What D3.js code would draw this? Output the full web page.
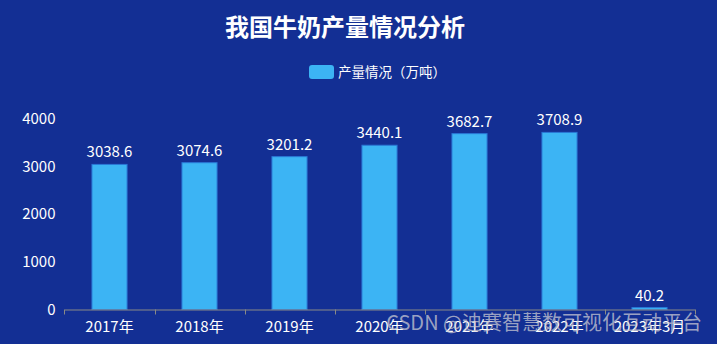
<!DOCTYPE html>
<html><head><meta charset="utf-8">
<script src="https://cdn.jsdelivr.net/npm/d3@7"></script>
<style>html,body{margin:0;padding:0;background:#132f94;}svg{display:block;}</style>
</head><body>
<script>
const categories = ["2017年","2018年","2019年","2020年","2021年","2022年","2023年3月"];
const values = [3038.6, 3074.6, 3201.2, 3440.1, 3682.7, 3708.9, 40.2];
const yTicks = [0, 1000, 2000, 3000, 4000];
const title = "我国牛奶产量情况分析";
const legendLabel = "产量情况（万吨）";
const watermark = "CSDN @迪赛智慧数可视化互动平台";

const W = 717, H = 344;
const font = "'Noto Sans CJK SC','Microsoft YaHei',sans-serif";
const svg = d3.select("body").append("svg").attr("width", W).attr("height", H)
  .style("font-family", font);
svg.append("rect").attr("width", W).attr("height", H).attr("fill", "#132f94");

const x = d3.scaleBand().domain(categories).range([64.5, 694.5]).paddingInner(0.61).paddingOuter(0.305);
const y = d3.scaleLinear().domain([0, 4000]).range([309.5, 118.5]);

// title
svg.append("text").attr("x", 345).attr("y", 36).attr("text-anchor", "middle")
  .attr("fill", "#fff").attr("font-size", 24).attr("font-weight", "bold").text(title);

// legend
svg.append("rect").attr("x", 309).attr("y", 65).attr("width", 25).attr("height", 14).attr("rx", 3)
  .attr("fill", "#3cb4f4");
svg.append("text").attr("x", 338).attr("y", 77).attr("fill", "#fff").attr("font-size", 13.5)
  .text(legendLabel);

// y axis
const yAxis = svg.append("g").attr("transform", "translate(64.5,0)")
  .call(d3.axisLeft(y).tickValues(yTicks).tickFormat(d3.format("d")).tickSize(0).tickPadding(9));
yAxis.select(".domain").remove();
yAxis.selectAll("text").attr("fill", "#fff").attr("font-size", 15).attr("font-family", font);

// bars
svg.append("g").selectAll("rect").data(values).join("rect")
  .attr("x", (d, i) => x(categories[i]))
  .attr("y", d => y(d))
  .attr("width", x.bandwidth())
  .attr("height", d => y(0) - y(d))
  .attr("fill", "#3cb4f4").attr("stroke", "#2a78d6").attr("stroke-width", 1);

// value labels
svg.append("g").selectAll("text").data(values).join("text")
  .attr("x", (d, i) => x(categories[i]) + x.bandwidth() / 2)
  .attr("y", d => y(d) - 7)
  .attr("text-anchor", "middle").attr("fill", "#fff").attr("font-size", 15)
  .text(d => d);

// x axis
const xAxis = svg.append("g").attr("transform", "translate(0,309.5)")
  .call(d3.axisBottom(x).tickSize(0).tickPadding(12).tickSizeOuter(0));
xAxis.select(".domain").attr("stroke", "#8a8a86");
xAxis.selectAll("text").attr("fill", "#fff").attr("font-size", 15).attr("font-family", font);
// boundary tick marks
const bounds = categories.map(c => x(c) - x.step() * x.paddingInner() / 2);
bounds.push(694.5);
xAxis.selectAll("line.b").data(bounds).join("line").attr("class", "b")
  .attr("x1", d => Math.round(d) + 0.5).attr("x2", d => Math.round(d) + 0.5)
  .attr("y1", 0).attr("y2", 5).attr("stroke", "#8a8a86");

// watermark
svg.append("text").attr("x", 702).attr("y", 330).attr("text-anchor", "end")
  .attr("fill", "rgba(200,200,210,0.75)").attr("font-size", 20).text(watermark);
</script>
</body></html>
